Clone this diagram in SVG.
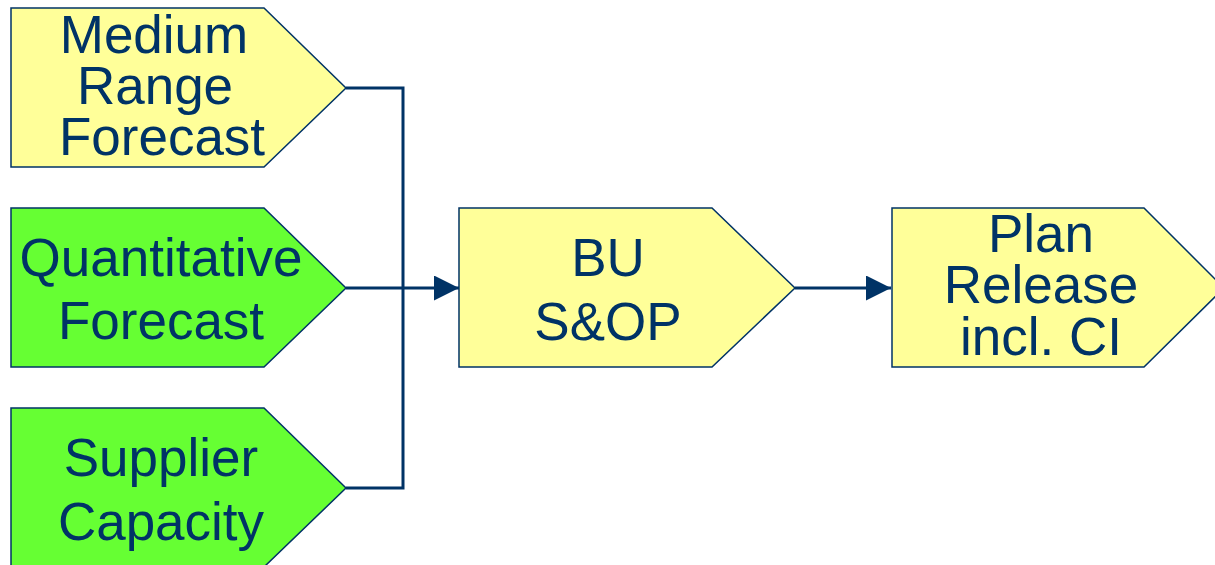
<svg xmlns="http://www.w3.org/2000/svg" width="1215" height="565" viewBox="0 0 1215 565">
<style>
.n{stroke:#003366;stroke-width:1.5;stroke-linejoin:miter}
.y{fill:#FFFF99}
.g{fill:#66FF33}
.t{font-family:"Liberation Sans",Arial,sans-serif;font-size:53px;fill:#003366;text-anchor:middle}
.c{fill:none;stroke:#003366;stroke-width:3}
</style>
<defs>
<marker id="ah" viewBox="0 0 25 25" refX="25" refY="12.5" markerWidth="25" markerHeight="25" markerUnits="userSpaceOnUse" orient="auto">
<path d="M0,0 L25,12.5 L0,25 Z" fill="#003366"/>
</marker>
</defs>
<g id="connectors">
<path class="c" d="M346,88 H403 V488 H346"/>
<path class="c" d="M346,288 H459" marker-end="url(#ah)"/>
<path class="c" d="M795,288 H891" marker-end="url(#ah)"/>
</g>
<g id="medium-range-forecast">
<path class="n y" d="M11,8 H264 L346,88 L264,167 H11 Z"/>
<text class="t" x="154" y="53">Medium</text>
<text class="t" x="155" y="104">Range</text>
<text class="t" x="162" y="155">Forecast</text>
</g>
<g id="quantitative-forecast">
<path class="n g" d="M11,208 H264 L346,288 L264,367 H11 Z"/>
<text class="t" x="161" y="276">Quantitative</text>
<text class="t" x="161" y="339">Forecast</text>
</g>
<g id="supplier-capacity">
<path class="n g" d="M11,408 H264 L346,488 L264,567 H11 Z"/>
<text class="t" x="161" y="476">Supplier</text>
<text class="t" x="161" y="540">Capacity</text>
</g>
<g id="bu-sop">
<path class="n y" d="M459,208 H712 L795,288 L712,367 H459 Z"/>
<text class="t" x="608" y="276">BU</text>
<text class="t" x="608" y="340">S&amp;OP</text>
</g>
<g id="plan-release">
<path class="n y" d="M892,208 H1144 L1224,288 L1144,367 H892 Z"/>
<text class="t" x="1041" y="252">Plan</text>
<text class="t" x="1041" y="303">Release</text>
<text class="t" x="1041" y="355">incl. CI</text>
</g>
</svg>
